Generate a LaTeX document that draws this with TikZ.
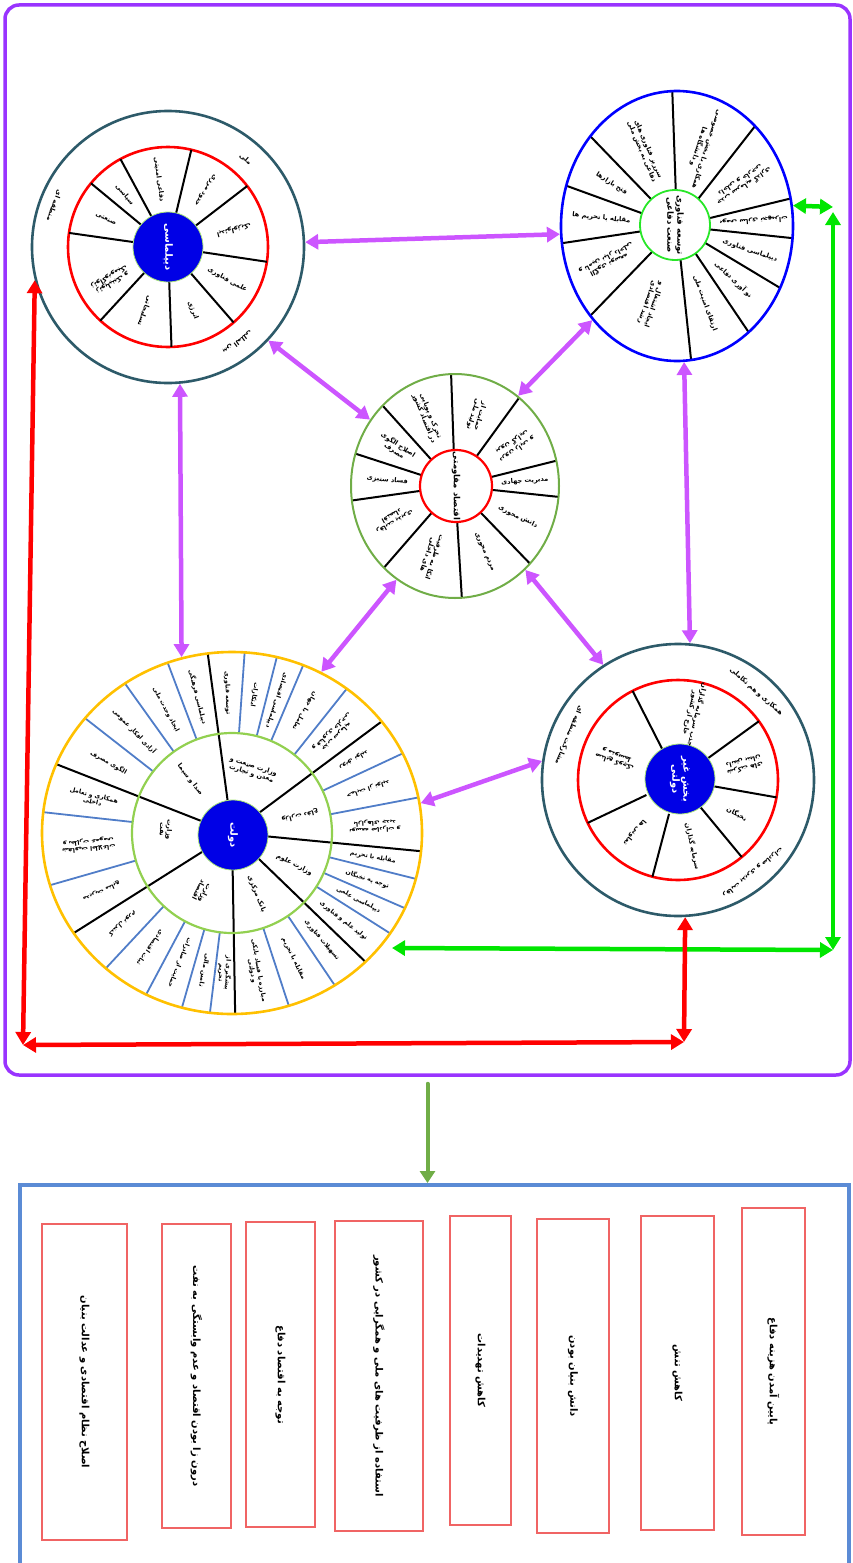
\documentclass[tikz,border=0pt]{standalone}
\usepackage{fontspec}
\usepackage{tikz}
\usetikzlibrary{arrows.meta,positioning,shapes.geometric,calc}
\newfontfamily\arabicfont[Script=Arabic]{DejaVu Sans}
\TeXXeTstate=1
\newcommand{\fa}[1]{\beginR #1\endR}
\definecolor{framec}{RGB}{153,51,255}
\definecolor{linkc}{RGB}{204,85,255}
\definecolor{tealc}{RGB}{45,90,105}
\definecolor{hubc}{RGB}{0,0,230}
\definecolor{hubrim}{RGB}{170,230,120}
\definecolor{limec}{RGB}{112,173,71}
\definecolor{brightg}{RGB}{40,230,40}
\definecolor{goldc}{RGB}{255,192,0}
\definecolor{softg}{RGB}{146,208,80}
\definecolor{tiec}{RGB}{80,125,200}
\definecolor{greenarr}{RGB}{0,230,0}
\definecolor{outc}{RGB}{91,139,213}
\definecolor{boxred}{RGB}{240,100,100}

\begin{document}
\begin{tikzpicture}[
  x=1pt, y=1pt,
  wtxt/.style={font=\arabicfont\bfseries\fontsize{6.6}{7.2}\selectfont,
               align=center, inner sep=0pt},
  stxt/.style={font=\arabicfont\bfseries\fontsize{6.2}{6.8}\selectfont,
               align=center, inner sep=0pt},
  hub/.style={circle, fill=hubc, draw=hubrim, line width=0.8,
              minimum size=70, inner sep=0pt, text=white, align=center,
              font=\arabicfont\bfseries\fontsize{10}{11}\selectfont},
  ring/.style={circle, line width=2.6, inner sep=0pt},
  oval/.style={ellipse, line width=2.6, inner sep=0pt},
  spoke/.style={line width=2, black},
  tie/.style={line width=1.8, tiec},
  parr/.style={line width=4.5, linkc,
               {Triangle[length=13pt,width=15pt]}-{Triangle[length=13pt,width=15pt]}},
  rarr/.style={line width=4.5, red,
               {Triangle[length=13pt,width=15pt]}-{Triangle[length=13pt,width=15pt]}},
  garr/.style={line width=4.5, greenarr,
               {Triangle[length=13pt,width=15pt]}-{Triangle[length=13pt,width=15pt]}},
  rbox/.style={draw=boxred, line width=1.3, rotate=-90, inner sep=0pt,
               font=\arabicfont\bfseries\fontsize{10}{11}\selectfont}
]
\useasboundingbox (0,0) rectangle (853,-1563);

% outer frame
\node[draw=framec, line width=3.5, rounded corners=14, minimum width=845,
      minimum height=1070, inner sep=0pt] (frame) at (427.5,-540) {};

% ---------- diplomacy wheel (top left)
\node[ring, draw=tealc, minimum size=272] (dip) at (168,-247) {};
\node[ring, draw=red, minimum size=200] (dipin) at (168,-247) {};
\foreach \a in {76.5,37.6,-8.5,-49,-88,-132.6,171.9,140.4,118.4}
  \draw[spoke] (dip.center) ++(\a:35) -- ++(\a:65);
\node[hub, rotate=-90] (diphub) at (168,-247) {\fa{دیپلماسی}};
\node[wtxt, rotate=-82.5] (dipa) at ([shift={(97.5:68)}]dip.center) {\fa{دفاعی امنیتی}};
\node[wtxt, rotate=-123] (dipb) at ([shift={(57:68)}]dip.center) {\fa{حدود مرزی}};
\node[wtxt, rotate=-165.5] (dipc) at ([shift={(14.5:68)}]dip.center) {\fa{ایدئولوژیک}};
\node[wtxt, rotate=-29] (dipd) at ([shift={(-29:68)}]dip.center) {\fa{علمی فناوری}};
\node[wtxt, rotate=-68.5] (dipe) at ([shift={(-68.5:68)}]dip.center) {\fa{انرژی}};
\node[wtxt, rotate=-110] (dipf) at ([shift={(-110:68)}]dip.center) {\fa{تسلیحاتی}};
\node[wtxt, rotate=-150] (dipg) at ([shift={(-150:66)}]dip.center) {\fa{ژئوپلیتیک و}\\\fa{ژئواکونومیک}};
\node[wtxt, rotate=-24] (diph) at ([shift={(156:68)}]dip.center) {\fa{صنعتی}};
\node[wtxt, rotate=-50.6] (dipi) at ([shift={(129.4:68)}]dip.center) {\fa{سیاسی}};
\node[wtxt, rotate=-41.5] (dipo1) at ([shift={(48.5:117)}]dip.center) {\fa{ملی}};
\node[wtxt, rotate=-110] (dipo2) at ([shift={(160:121)}]dip.center) {\fa{منطقه ای}};
\node[wtxt, rotate=-144] (dipo3) at ([shift={(-54:118)}]dip.center) {\fa{بین المللی}};

% ---------- defence industry wheel (top right)
\begin{scope}
  \clip (677,-226) ellipse [x radius=116, y radius=135];
  \foreach \a in {92,52,13.6,-6,-31,-56,-84,-134,-171.5,160,134}
    \draw[spoke] (677,-226) -- ++(\a:150);
\end{scope}
\node[oval, draw=blue, minimum width=232, minimum height=270] (sanat) at (677,-226) {};
\node[circle, draw=brightg, line width=1.8, fill=white, minimum size=70,
      inner sep=0pt, align=center, rotate=-90,
      font=\arabicfont\bfseries\fontsize{8.5}{10}\selectfont] (sanathub) at (675,-225)
  {\fa{توسعه فناوری}\\\fa{صنعت دفاعی}};
\node[wtxt, rotate=-108] (sana) at ([shift={(72:82)}]sanat.center) {\fa{همکاری با بخش خصوصی}\\\fa{و دانشگاه ها}};
\node[wtxt, rotate=-147] (sanb) at ([shift={(33:78)}]sanat.center) {\fa{جذب سرمایه گذاری}\\\fa{داخلی و خارجی}};
\node[wtxt, rotate=-176] (sanc) at ([shift={(4:77)}]sanat.center) {\fa{بومی سازی تجهیزات}};
\node[wtxt, rotate=-18.5] (sand) at ([shift={(-18.5:77)}]sanat.center) {\fa{دیپلماسی فناوری}};
\node[wtxt, rotate=-43.5] (sane) at ([shift={(-43.5:78)}]sanat.center) {\fa{نو آوری دفاعی}};
\node[wtxt, rotate=-70] (sanf) at ([shift={(-70:82)}]sanat.center) {\fa{ارتقای امنیت ملی}};
\node[wtxt, rotate=-109] (sang) at ([shift={(-109:82)}]sanat.center) {\fa{ایجاد اشتغال و}\\\fa{رشد اقتصادی}};
\node[wtxt, rotate=-152.75] (sanh) at ([shift={(-152.75:78)}]sanat.center) {\fa{الگوی توسعه}\\\fa{و تامین نیاز داخلی}};
\node[wtxt, rotate=-6] (sani) at ([shift={(174:76)}]sanat.center) {\fa{مقابله با تحریم ها}};
\node[wtxt, rotate=-33] (sanj) at ([shift={(147:78)}]sanat.center) {\fa{فتح بازارها}};
\node[wtxt, rotate=-67] (sank) at ([shift={(113:82)}]sanat.center) {\fa{سرریز فناوری های}\\\fa{دفاعی به بخش ملی}};

% ---------- resistance economy wheel (centre)
\begin{scope}
  \clip (455,-486) ellipse [x radius=104, y radius=112];
  \foreach \a in {92,54,14,-6,-46,-86.5,-131,-172,162,132}
    \draw[spoke] (455,-486) -- ++(\a:130);
\end{scope}
\node[oval, draw=limec, line width=2, minimum width=208, minimum height=224] (eco) at (455,-486) {};
\node[circle, draw=red, line width=2.2, fill=white, minimum size=72,
      inner sep=0pt, rotate=-90,
      font=\arabicfont\bfseries\fontsize{8.5}{9.5}\selectfont] (ecohub) at (456,-486)
  {\fa{اقتصاد مقاومتی}};
\node[wtxt, rotate=-107] (ecoa) at ([shift={(73:74)}]eco.center) {\fa{حمایت از}\\\fa{تولید ملی}};
\node[wtxt, rotate=-146] (ecob) at ([shift={(34:72)}]eco.center) {\fa{درون زایی و}\\\fa{برون گرایی}};
\node[wtxt, rotate=4] (ecoc) at ([shift={(4:70)}]eco.center) {\fa{مدیریت جهادی}};
\node[wtxt, rotate=-26] (ecod) at ([shift={(-26:70)}]eco.center) {\fa{دانش محوری}};
\node[wtxt, rotate=-66] (ecoe) at ([shift={(-66:72)}]eco.center) {\fa{مردم محوری}};
\node[wtxt, rotate=-108.75] (ecof) at ([shift={(-108.75:74)}]eco.center) {\fa{اتکا به ظرفیت}\\\fa{های داخلی}};
\node[wtxt, rotate=-151.5] (ecog) at ([shift={(-151.5:70)}]eco.center) {\fa{رقابت پذیری}\\\fa{اقتصاد}};
\node[wtxt, rotate=-5] (ecoh) at ([shift={(175:68)}]eco.center) {\fa{فساد ستیزی}};
\node[wtxt, rotate=-33] (ecoi) at ([shift={(147:70)}]eco.center) {\fa{اصلاح الگوی}\\\fa{مصرف}};
\node[wtxt, rotate=-68] (ecoj) at ([shift={(112:74)}]eco.center) {\fa{تحرک و پویایی}\\\fa{در اقتصاد کشور}};

% ---------- government wheel (bottom left)
\begin{scope}
  \clip (232,-833) ellipse [x radius=190, y radius=181];
  \foreach \a in {97.7,36.7,-5.5,-44,-89,-147.7,158.6}
    \draw[spoke] (232,-833) -- ++(\a:200);
  \foreach \a in {86,75.7,67,51.5,25,10.8,-14,-23.5,-32.4,-56,-71.8,-97,-106,-118,-133,-164,173.7,142,125.6,110.7}
    \draw[tie] (232,-833) ++(\a:100) -- ++(\a:100);
\end{scope}
\node[oval, draw=goldc, minimum width=380, minimum height=362] (gov) at (232,-833) {};
\node[ring, draw=softg, line width=2.2, minimum size=200] (govin) at (232,-833) {};
\node[hub, rotate=-90] (govhub) at (233,-835) {\fa{دولت}};
\node[wtxt, rotate=-18] (gova) at ([shift={(72:66)}]gov.center) {\fa{وزارت صنعت و}\\\fa{معدن و تجارت}};
\node[wtxt, rotate=-166] (govb) at ([shift={(14:70)}]gov.center) {\fa{وزارت دفاع}};
\node[wtxt, rotate=-27] (govc) at ([shift={(-27:70)}]gov.center) {\fa{وزارت علوم}};
\node[wtxt, rotate=-68] (govd) at ([shift={(-68:66)}]gov.center) {\fa{بانک مرکزی}};
\node[wtxt, rotate=-117] (gove) at ([shift={(-117:66)}]gov.center) {\fa{وزارت}\\\fa{اقتصاد}};
\node[wtxt, rotate=-93] (govf) at ([shift={(177:66)}]gov.center) {\fa{وزارت}\\\fa{نفت}};
\node[wtxt, rotate=-52] (govg) at ([shift={(128:68)}]gov.center) {\fa{صدا و سیما}};
\node[stxt, rotate=-88.15] (govo1) at ([shift={(91.85:140)}]gov.center) {\fa{توسعه فناوری}};
\node[stxt, rotate=-99.15] (govo2) at ([shift={(80.85:140)}]gov.center) {\fa{ابتکارات}};
\node[stxt, rotate=-108.65] (govo3) at ([shift={(71.35:140)}]gov.center) {\fa{دیپلماسی اقتصادی}};
\node[stxt, rotate=-120.75] (govo4) at ([shift={(59.25:142)}]gov.center) {\fa{تعامل با جهان}};
\node[stxt, rotate=-135.9] (govo5) at ([shift={(44.1:142)}]gov.center) {\fa{جذب سرمایه}\\\fa{و فناوری خارجی}};
\node[stxt, rotate=-149.15] (govo6) at ([shift={(30.85:142)}]gov.center) {\fa{رونق تولید}};
\node[stxt, rotate=-162.1] (govo7) at ([shift={(17.9:143)}]gov.center) {\fa{حمایت از تولید}};
\node[stxt, rotate=-177.35] (govo8) at ([shift={(2.65:143)}]gov.center) {\fa{توسعه صادرات و}\\\fa{بازارهای جدید}};
\node[stxt, rotate=-9.75] (govo9) at ([shift={(-9.75:143)}]gov.center) {\fa{مقابله با تحریم}};
\node[stxt, rotate=-18.75] (govo10) at ([shift={(-18.75:143)}]gov.center) {\fa{توجه به نخبگان}};
\node[stxt, rotate=-27.95] (govo11) at ([shift={(-27.95:143)}]gov.center) {\fa{دیپلماسی علمی}};
\node[stxt, rotate=-38.2] (govo12) at ([shift={(-38.2:142)}]gov.center) {\fa{تولید علم و فناوری}};
\node[stxt, rotate=-50] (govo13) at ([shift={(-50:140)}]gov.center) {\fa{تسهیلات فناوری}};
\node[stxt, rotate=-63.9] (govo14) at ([shift={(-63.9:140)}]gov.center) {\fa{مقابله با تحریم}};
\node[stxt, rotate=-80.4] (govo15) at ([shift={(-80.4:140)}]gov.center) {\fa{مبارزه با فساد بانکی}\\\fa{و دولتی}};
\node[stxt, rotate=-93] (govo16) at ([shift={(-93:140)}]gov.center) {\fa{پیشگیری از}\\\fa{تحریم}};
\node[stxt, rotate=-101.5] (govo17) at ([shift={(-101.5:140)}]gov.center) {\fa{تامین مالی}};
\node[stxt, rotate=-112] (govo18) at ([shift={(-112:140)}]gov.center) {\fa{حمایت از صادرات}};
\node[stxt, rotate=-125.5] (govo19) at ([shift={(-125.5:141)}]gov.center) {\fa{ثبات اقتصادی}};
\node[stxt, rotate=-140.35] (govo20) at ([shift={(-140.35:142)}]gov.center) {\fa{کنترل تورم}};
\node[stxt, rotate=-155.85] (govo21) at ([shift={(-155.85:143)}]gov.center) {\fa{مدیریت منابع}};
\node[stxt, rotate=-175.15] (govo22) at ([shift={(-175.15:144)}]gov.center) {\fa{شفافیت اطلاعات}\\\fa{و نظارت عمومی}};
\node[stxt, rotate=-13.85] (govo23) at ([shift={(166.15:143)}]gov.center) {\fa{همکاری و تعامل}\\\fa{داخلی}};
\node[stxt, rotate=-29.7] (govo24) at ([shift={(150.3:142)}]gov.center) {\fa{الگوی مصرف}};
\node[stxt, rotate=-46.2] (govo25) at ([shift={(133.8:141)}]gov.center) {\fa{آزادی افکار عمومی}};
\node[stxt, rotate=-61.85] (govo26) at ([shift={(118.15:140)}]gov.center) {\fa{ایجاد وحدت ملی}};
\node[stxt, rotate=-75.8] (govo27) at ([shift={(104.2:140)}]gov.center) {\fa{دیپلماسی فرهنگی}};

% ---------- non-governmental wheel (bottom right)
\node[ring, draw=tealc, minimum size=272] (priv) at (678,-780) {};
\node[ring, draw=red, minimum size=200] (privin) at (678,-780) {};
\foreach \a in {117,36,-10,-50.4,-104.8,-154.6}
  \draw[spoke] (priv.center) ++(\a:35) -- ++(\a:65);
\node[hub, rotate=-90] (privhub) at (680,-779) {\fa{بخش غیر}\\\fa{دولتی}};
\node[wtxt, rotate=-103.5] (priva) at ([shift={(76.5:68)}]priv.center) {\fa{جذب سرمایه گذاران}\\\fa{خارج از کشور}};
\node[wtxt, rotate=-167] (privb) at ([shift={(13:68)}]priv.center) {\fa{شرکت های}\\\fa{دانش بنیان}};
\node[wtxt, rotate=-30] (privc) at ([shift={(-30:68)}]priv.center) {\fa{نخبگان}};
\node[wtxt, rotate=-77.6] (privd) at ([shift={(-77.6:68)}]priv.center) {\fa{سرمایه گذاران}};
\node[wtxt, rotate=-129.7] (prive) at ([shift={(-129.7:68)}]priv.center) {\fa{تعاونی ها}};
\node[wtxt, rotate=161] (privf) at ([shift={(161:66)}]priv.center) {\fa{صنایع کوچک}\\\fa{و متوسط}};
\node[wtxt, rotate=-41.5] (privo1) at ([shift={(48.5:118)}]priv.center) {\fa{همکاری و هم تکاملی}};
\node[wtxt, rotate=-112.4] (privo2) at ([shift={(157.6:118)}]priv.center) {\fa{مشارکت منطقه ای}};
\node[wtxt, rotate=-141] (privo3) at ([shift={(-51:119)}]priv.center) {\fa{رقابت پذیری و صادرات}};

% ---------- links
\draw[parr] (dip.2) -- (sanat.184);
\draw[parr] (dip.-43) -- (eco.142);
\draw[parr] (sanat.-132) -- (eco.55);
\draw[parr] (dip.-85) -- (gov.106);
\draw[parr] (eco.-122) -- (gov.61);
\draw[parr] (eco.-50) -- (priv.123);
\draw[parr] (sanat.-87) -- (priv.85);
\draw[parr] (gov.9) -- (priv.172);

\coordinate (gtop) at (833,-207);
\coordinate (gup) at (833,-212);
\coordinate (gdown) at (833,-950);
\coordinate (gleft) at (392,-948);
\draw[garr] (sanat.10) -- (gtop);
\draw[garr] (gup) -- (gdown);
\draw[garr] (gdown) -- (gleft);

\coordinate (rcorner) at (23,-1045);
\coordinate (rright) at (684,-1042);
\draw[rarr] (dip.-166) -- (rcorner);
\draw[rarr] (rcorner) -- (rright);
\draw[rarr] (priv.-87) -- (rright);

% ---------- outcomes
\node[draw=outc, line width=4, minimum width=829, minimum height=395,
      anchor=north west, inner sep=0pt] (outcome) at (18,-1183) {};
\draw[line width=4, limec, line cap=round, -{Triangle[length=12pt,width=15pt]},
      shorten <=7pt] (frame.south) -- (frame.south |- outcome.north);

\node[rbox, minimum width=316, minimum height=85] (res1) at (84.5,-1382) {\fa{اصلاح نظام اقتصادی و عدالت بنیان}};
\node[rbox, minimum width=304, minimum height=69] (res2) at (196.5,-1376) {\fa{درون زا بودن اقتصاد و عدم وابستگی به نفت}};
\node[rbox, minimum width=305, minimum height=69] (res3) at (280.5,-1374.5) {\fa{توجه به اقتصاد دفاع}};
\node[rbox, minimum width=310, minimum height=88] (res4) at (379,-1376) {\fa{استفاده از ظرفیت های ملی و همگرایی در کشور}};
\node[rbox, minimum width=309, minimum height=61] (res5) at (480.5,-1370.5) {\fa{کاهش تهدیدات}};
\node[rbox, minimum width=314, minimum height=72] (res6) at (573,-1376) {\fa{دانش بنیان بودن}};
\node[rbox, minimum width=314, minimum height=73] (res7) at (677.5,-1373) {\fa{کاهش تنش}};
\node[rbox, minimum width=327, minimum height=63] (res8) at (773.5,-1371.5) {\fa{پایین آمدن هزینه دفاع}};
\end{tikzpicture}
\end{document}
